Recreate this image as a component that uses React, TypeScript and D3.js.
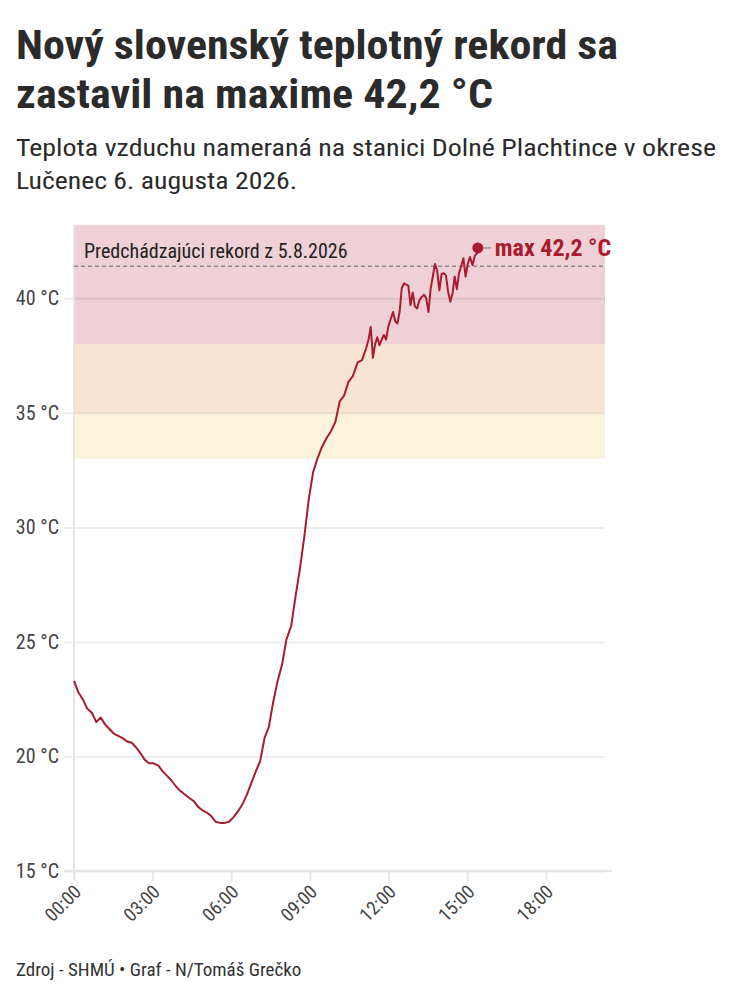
import { useEffect, useRef } from 'react';
import * as d3 from 'd3';

// Measurement times (HH:MM) and air temperature in °C, Dolné Plachtince, 6.8.2026
const times = [
  '00:00', '00:10', '00:20', '00:30', '00:41', '00:51', '01:01', '01:11', '01:21', '01:31',
  '01:41', '01:51', '02:02', '02:12', '02:22', '02:32', '02:42', '02:52', '03:02', '03:13',
  '03:23', '03:33', '03:43', '03:53', '04:03', '04:13', '04:23', '04:34', '04:44', '04:54',
  '05:04', '05:14', '05:24', '05:34', '05:45', '05:55', '06:05', '06:15', '06:25', '06:35',
  '06:45', '06:55', '07:06', '07:16', '07:26', '07:36', '07:46', '07:56', '08:06', '08:17',
  '08:27', '08:37', '08:47', '08:57', '09:07', '09:17', '09:27', '09:38', '09:48', '09:58',
  '10:08', '10:18', '10:28', '10:38', '10:49', '10:59', '11:09', '11:14', '11:19', '11:24',
  '11:29', '11:34', '11:39', '11:44', '11:49', '11:54', '11:59', '12:04', '12:10', '12:15',
  '12:20', '12:25', '12:30', '12:35', '12:40', '12:45', '12:50', '12:55', '13:00', '13:05',
  '13:10', '13:15', '13:21', '13:26', '13:31', '13:36', '13:41', '13:46', '13:51', '13:56',
  '14:01', '14:06', '14:11', '14:16', '14:21', '14:26', '14:31', '14:36', '14:41', '14:46',
  '14:51', '14:56', '15:01', '15:06', '15:12', '15:17', '15:22', '15:24',
];
const temps = [
  23.3, 22.8, 22.5, 22.1, 21.9, 21.5, 21.7, 21.4, 21.2, 21.0,
  20.9, 20.8, 20.65, 20.6, 20.4, 20.15, 19.85, 19.7, 19.7, 19.6,
  19.35, 19.15, 18.95, 18.7, 18.5, 18.35, 18.2, 18.05, 17.8, 17.65,
  17.55, 17.4, 17.15, 17.1, 17.1, 17.15, 17.35, 17.6, 17.9, 18.3,
  18.8, 19.3, 19.8, 20.8, 21.3, 22.4, 23.3, 24.0, 25.1, 25.7,
  27.0, 28.2, 29.6, 31.2, 32.4, 33.0, 33.5, 33.9, 34.2, 34.6,
  35.5, 35.75, 36.35, 36.6, 37.2, 37.3, 37.85, 38.2, 38.75, 37.4,
  38.0, 38.3, 37.95, 38.2, 38.4, 38.2, 38.75, 39.05, 39.4, 39.0,
  38.9, 39.4, 40.45, 40.65, 40.6, 40.55, 39.7, 40.25, 39.65, 39.55,
  39.9, 40.05, 40.15, 40.0, 39.4, 40.4, 40.95, 41.5, 41.2, 40.35,
  41.05, 41.1, 41.0, 40.3, 39.85, 40.2, 40.95, 40.4, 41.1, 41.4,
  41.75, 40.95, 41.5, 41.8, 41.45, 41.85, 41.95, 42.2,
];

const yTicks = [15, 20, 25, 30, 35, 40];
const xTicks = ['00:00', '03:00', '06:00', '09:00', '12:00', '15:00', '18:00'];
const xDomain = ['00:00', '20:15'];
const yDomain = [15, 43.2];

// Heat warning bands (from, to) and their fills
const bandFrom = [33, 35, 38];
const bandTo = [35, 38, 43.2];
const bandColors = ['#fcf3dd', '#f9e4d3', '#eed0d6'];

const previousRecord = 41.4;
const previousRecordLabel = 'Predchádzajúci rekord z 5.8.2026';
const maxLabel = 'max 42,2 °C';

const titleLines = ['Nový slovenský teplotný rekord sa', 'zastavil na maxime 42,2 °C'];
const subtitleLines = [
  'Teplota vzduchu nameraná na stanici Dolné Plachtince v okrese',
  'Lučenec 6. augusta 2026.',
];
const footer = 'Zdroj - SHMÚ • Graf - N/Tomáš Grečko';

const FONT = '"Roboto Condensed", "Liberation Sans Narrow", Roboto, sans-serif';

export default function App() {
  const svgRef = useRef<SVGSVGElement>(null);

  useEffect(() => {
    if (!svgRef.current) return;
    const root = d3.select(svgRef.current);
    root.selectAll('*').remove();

    const parse = d3.timeParse('%H:%M');
    const data = times.map((t, i) => ({ time: parse(t) as Date, temp: temps[i] }));

    const margin = { top: 225, left: 74, right: 133, bottom: 129 };
    const width = 738;
    const height = 1000;

    const x = d3.scaleTime()
      .domain(xDomain.map(t => parse(t) as Date))
      .range([margin.left, width - margin.right]);
    const y = d3.scaleLinear()
      .domain(yDomain)
      .range([height - margin.bottom, margin.top]);

    // Title & subtitle
    const titleWidths = [602, 477];
    titleLines.forEach((line, i) => {
      root.append('text')
        .attr('x', 16)
        .attr('y', 59 + i * 49)
        .attr('font-family', FONT)
        .attr('font-size', 40)
        .attr('font-weight', 700)
        .attr('fill', '#2b2b2b')
        .attr('textLength', titleWidths[i])
        .attr('lengthAdjust', 'spacingAndGlyphs')
        .text(line);
    });
    const subWidths = [700, 281];
    subtitleLines.forEach((line, i) => {
      root.append('text')
        .attr('x', 16)
        .attr('y', 156 + i * 33)
        .attr('font-family', FONT)
        .attr('font-size', 24)
        .attr('fill', '#2b2b2b')
        .attr('textLength', subWidths[i])
        .attr('lengthAdjust', 'spacingAndGlyphs')
        .text(line);
    });

    // Bands
    root.append('g')
      .selectAll('rect')
      .data(bandFrom)
      .join('rect')
      .attr('x', x.range()[0])
      .attr('width', x.range()[1] - x.range()[0])
      .attr('y', (_, i) => y(bandTo[i]))
      .attr('height', (d, i) => y(d) - y(bandTo[i]))
      .attr('fill', (_, i) => bandColors[i]);

    // Y axis (gridlines)
    const yAxis = root.append('g')
      .attr('transform', `translate(${x.range()[0]},0)`)
      .call(d3.axisLeft(y)
        .tickValues(yTicks)
        .tickSize(x.range()[0] - x.range()[1])
        .tickPadding(15)
        .tickFormat(d => `${d} °C`));
    yAxis.select('.domain').remove();
    yAxis.selectAll('.tick line')
      .attr('x1', -10)
      .attr('stroke', 'rgba(0,0,0,0.07)')
      .attr('stroke-width', 2);
    yAxis.selectAll('.tick text')
      .attr('font-family', FONT)
      .attr('font-size', 20)
      .attr('fill', '#444');

    // vertical axis line
    root.append('line')
      .attr('x1', x.range()[0])
      .attr('x2', x.range()[0])
      .attr('y1', y.range()[1])
      .attr('y2', y.range()[0] + 10)
      .attr('stroke', '#e6e6e6')
      .attr('stroke-width', 2);

    // X axis
    const xAxis = root.append('g')
      .attr('transform', `translate(0,${y.range()[0]})`)
      .call(d3.axisBottom(x)
        .tickValues(xTicks.map(t => parse(t) as Date))
        .tickSize(10)
        .tickFormat(d3.timeFormat('%H:%M') as any));
    xAxis.select('.domain')
      .attr('d', `M${x.range()[0] - 10},0H${x.range()[1] + 7}`)
      .attr('stroke', '#e6e6e6')
      .attr('stroke-width', 2);
    xAxis.selectAll('.tick line')
      .attr('stroke', '#e6e6e6')
      .attr('stroke-width', 2);
    xAxis.selectAll('.tick text')
      .attr('font-family', FONT)
      .attr('font-size', 19)
      .attr('fill', '#444')
      .attr('text-anchor', 'end')
      .attr('dy', null)
      .attr('y', 0)
      .attr('transform', 'translate(8,22) rotate(-45)');

    // Previous record
    root.append('line')
      .attr('x1', x.range()[0])
      .attr('x2', x.range()[1])
      .attr('y1', y(previousRecord))
      .attr('y2', y(previousRecord))
      .attr('stroke', '#8a8a8a')
      .attr('stroke-width', 1.3)
      .attr('stroke-dasharray', '4,3');
    root.append('text')
      .attr('x', x.range()[0] + 10)
      .attr('y', y(previousRecord) - 8)
      .attr('font-family', FONT)
      .attr('font-size', 20)
      .attr('fill', '#222')
      .text(previousRecordLabel);

    // Temperature line
    const line = d3.line<{ time: Date; temp: number }>()
      .x(d => x(d.time))
      .y(d => y(d.temp));
    root.append('path')
      .datum(data)
      .attr('fill', 'none')
      .attr('stroke', '#a81c2f')
      .attr('stroke-width', 2)
      .attr('stroke-linejoin', 'round')
      .attr('d', line);

    // Maximum marker
    const maxPoint = data.reduce((a, b) => (b.temp > a.temp ? b : a));
    const mx = x(maxPoint.time);
    const my = y(maxPoint.temp);
    root.append('line')
      .attr('x1', mx)
      .attr('x2', mx + 13)
      .attr('y1', my)
      .attr('y2', my)
      .attr('stroke', '#999')
      .attr('stroke-width', 1.5);
    root.append('circle')
      .attr('cx', mx)
      .attr('cy', my)
      .attr('r', 5.5)
      .attr('fill', '#a81c2f');
    root.append('text')
      .attr('x', mx + 17)
      .attr('y', my + 8)
      .attr('font-family', FONT)
      .attr('font-size', 24)
      .attr('font-weight', 700)
      .attr('fill', '#a81c2f')
      .text(maxLabel);

    // Footer
    root.append('text')
      .attr('x', 16)
      .attr('y', 976)
      .attr('font-family', FONT)
      .attr('font-size', 19)
      .attr('fill', '#333')
      .text(footer);
  }, []);

  return (
    <svg
      ref={svgRef}
      width={738}
      height={1000}
      style={{ position: 'absolute', left: 0, top: 0, background: '#fff' }}
    />
  );
}
